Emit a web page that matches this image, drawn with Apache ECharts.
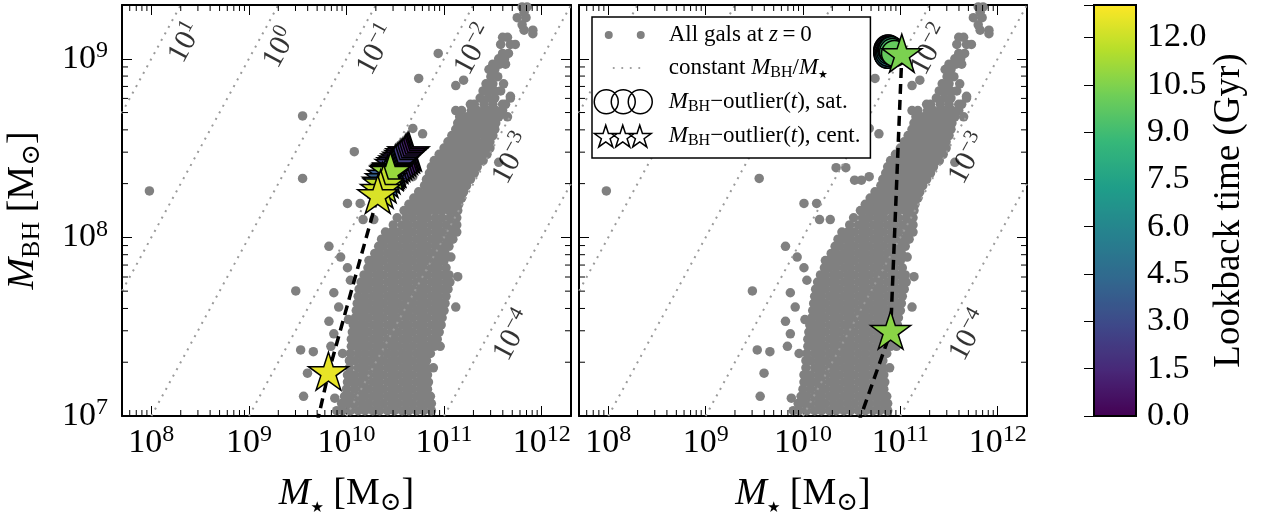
<!DOCTYPE html>
<html>
<head>
<meta charset="utf-8">
<script src="https://cdn.jsdelivr.net/npm/echarts@6.0.0/dist/echarts.min.js"></script>
<style>
html,body{margin:0;padding:0;background:#fff;}
#chart{width:1264px;height:514px;}
</style>
</head>
<body>
<div id="chart"></div>
<script>
// ------------------------------------------------------------------ data
const X_MIN = 5e7, X_MAX = 2e12;     // M_star axis range
const Y_MIN = 1e7, Y_MAX = 2e9;      // M_BH axis range
const CB_MIN = 0, CB_MAX = 13.03;    // lookback time range (Gyr)
const colorbarStep = 1.5;

// constant M_BH / M_star lines: exponents and the log(M_BH) height of each label
const ratioExponents   = [1, 0, -1, -2, -3, -4];
const ratioLabelLogMbh = [9.09, 9.06, 9.05, 9.05, 8.44, 7.45];

// z=0 galaxy cloud (same galaxies in both panels), log10 values
const cloudRowLogMbh = [6.99,7.03,7.07,7.11,7.15,7.19,7.23,7.27,7.31,7.35,7.39,7.43,7.47,7.51,7.55,7.59,7.63,7.67,7.71,7.75,7.79,7.83,7.87,7.91,7.95,7.99,8.03,8.07,8.11,
  8.15,8.185,8.22,8.255,8.29,8.325,8.36,8.395,8.43,8.465,8.50,8.535,8.57,8.605,8.64,8.675,8.71,8.745,8.78,
  8.82,8.86,8.90,8.94,8.97,9.00,9.03,9.08,9.12,9.16,9.19,9.23,9.26,9.29];
const cloudRowLogMstar = [
  [9.93,10.01,10.08,10.16,10.23,10.31,10.38,10.46,10.53,10.61,10.68,10.76,10.83,10.90],
  [9.96,10.04,10.12,10.19,10.27,10.34,10.42,10.49,10.57,10.64,10.72,10.79,10.87],
  [9.95,10.01,10.08,10.16,10.23,10.31,10.38,10.46,10.53,10.61,10.68,10.76,10.83,10.87],
  [9.98,10.04,10.12,10.19,10.27,10.34,10.42,10.49,10.57,10.64,10.72,10.79,10.86],
  [10.00,10.08,10.16,10.23,10.31,10.38,10.46,10.53,10.61,10.68,10.76,10.83],
  [10.01,10.05,10.12,10.19,10.27,10.34,10.42,10.49,10.57,10.64,10.72,10.79,10.84],
  [10.01,10.08,10.16,10.23,10.31,10.38,10.46,10.53,10.61,10.68,10.76,10.83],
  [10.03,10.12,10.19,10.27,10.34,10.42,10.49,10.57,10.64,10.72,10.79,10.82],
  [10.03,10.08,10.16,10.23,10.31,10.38,10.46,10.53,10.61,10.68,10.76,10.82],
  [10.04,10.12,10.19,10.27,10.34,10.42,10.49,10.57,10.64,10.72,10.79,10.86],
  [10.05,10.10,10.16,10.23,10.31,10.38,10.46,10.53,10.61,10.68,10.76,10.83,10.90],
  [10.05,10.12,10.19,10.27,10.34,10.42,10.49,10.57,10.64,10.72,10.79,10.87,10.93],
  [10.06,10.10,10.16,10.23,10.31,10.38,10.46,10.53,10.61,10.68,10.76,10.83,10.91,10.95],
  [10.07,10.12,10.19,10.27,10.34,10.42,10.49,10.57,10.64,10.72,10.79,10.87,10.94,10.97],
  [10.09,10.16,10.23,10.31,10.38,10.46,10.53,10.61,10.68,10.76,10.83,10.91,10.98],
  [10.10,10.13,10.19,10.27,10.34,10.42,10.49,10.57,10.64,10.72,10.79,10.87,10.94,11.00],
  [10.11,10.16,10.23,10.31,10.38,10.46,10.53,10.61,10.68,10.76,10.83,10.91,10.98,11.01],
  [10.12,10.19,10.27,10.34,10.42,10.49,10.57,10.64,10.72,10.79,10.87,10.94,11.02],
  [10.13,10.17,10.23,10.31,10.38,10.46,10.53,10.61,10.68,10.76,10.83,10.91,10.98,11.04],
  [10.15,10.20,10.27,10.34,10.42,10.49,10.57,10.64,10.72,10.79,10.87,10.94,11.02,11.06],
  [10.18,10.23,10.31,10.38,10.46,10.53,10.61,10.68,10.76,10.83,10.91,10.98,11.05],
  [10.22,10.27,10.34,10.42,10.49,10.57,10.64,10.72,10.79,10.87,10.94,11.02],
  [10.26,10.31,10.38,10.46,10.53,10.61,10.68,10.76,10.83,10.91,10.98,11.00],
  [10.29,10.34,10.42,10.49,10.57,10.64,10.72,10.79,10.87,10.94,11.01],
  [10.33,10.38,10.46,10.53,10.61,10.68,10.76,10.83,10.91,10.98,11.05],
  [10.36,10.42,10.49,10.57,10.64,10.72,10.79,10.87,10.94,11.02,11.09],
  [10.40,10.46,10.53,10.61,10.68,10.76,10.83,10.91,10.98,11.06,11.13],
  [10.48,10.57,10.64,10.72,10.79,10.87,10.94,11.02,11.09,11.13],
  [10.52,10.61,10.68,10.76,10.83,10.91,10.98,11.06,11.13],
  [10.59,10.66,10.72,10.79,10.85,10.92,10.98,11.05,11.11,11.14],
  [10.64,10.69,10.76,10.82,10.89,10.95,11.02,11.08,11.15],
  [10.69,10.72,10.79,10.85,10.92,10.98,11.05,11.11,11.18],
  [10.74,10.82,10.89,10.95,11.02,11.08,11.15,11.20],
  [10.80,10.85,10.92,10.98,11.05,11.11,11.18,11.23],
  [10.82,10.89,10.95,11.02,11.08,11.15,11.21,11.27],
  [10.85,10.92,10.98,11.05,11.11,11.18,11.24,11.31],
  [10.87,10.95,11.02,11.08,11.15,11.21,11.28,11.34],
  [10.90,10.98,11.05,11.11,11.18,11.24,11.31,11.37,11.40],
  [10.95,11.02,11.08,11.15,11.21,11.28,11.34,11.41,11.44],
  [11.00,11.05,11.11,11.18,11.24,11.31,11.37,11.44,11.47],
  [11.04,11.08,11.15,11.21,11.28,11.34,11.41,11.47],
  [11.08,11.14,11.21,11.28,11.34,11.41,11.47,11.50],
  [11.12,11.18,11.24,11.31,11.37,11.44,11.52],
  [11.14,11.21,11.28,11.34,11.41,11.47,11.53],
  [11.16,11.24,11.31,11.37,11.44,11.50,11.56,11.65],
  [11.12,11.18,11.28,11.34,11.41,11.47,11.53,11.60],
  [11.27,11.31,11.41,11.50,11.60,11.63],
  [11.37,11.45,11.52,11.68],
  [11.40,11.46,11.52,11.58],
  [11.43,11.50,11.61],
  [11.48,11.55],
  [11.46,11.52],
  [11.50,11.57,11.63],
  [11.56,11.62],
  [11.60,11.66],
  [11.58,11.68,11.73],
  [11.60,11.65],
  [11.82,11.91],
  [11.80],
  [11.75,11.84],
  [11.82],
  [11.80,11.85]
];
// isolated galaxies [log M_star, log M_BH]
const cloudExtraLog = [
  [7.98,8.26],[9.55,8.68],[9.55,8.33],[10.08,8.48],[9.48,7.70],[10.01,8.19],[9.82,7.95],[9.94,7.89],
  [9.87,7.69],[9.82,7.53],[9.53,7.37],[9.66,7.36],[9.60,7.24],[9.56,7.11],[10.17,8.10],[10.28,8.10],
  [10.23,7.87],[10.01,7.83],[10.04,7.76],[9.92,7.61],[10.02,7.54],[9.87,7.46],[9.84,7.39],[9.96,7.35],
  [11.12,7.61],[11.14,7.78],[11.07,7.89],[10.96,7.39],[10.89,7.27],[10.94,9.03],[10.74,8.89],[11.12,8.85],
  [11.20,8.88],[10.68,8.61],[10.78,8.58],[11.56,8.42],[11.68,8.79],[11.91,9.14],[10.53,8.32],[10.60,8.32],
  [10.68,8.34],[10.34,8.39],[10.44,8.39],[10.14,8.19],[9.90,7.03],[9.88,7.10]
];

// left panel: M_BH-outlier track, all snapshots central (stars), ordered by lookback time
const leftTrackT        = [0.0,0.2,0.4,0.6,0.9,1.2,1.5,1.8,2.1,2.4,2.8,3.2,3.6,4.0,4.6,6.3,7.2,10.0,11.0,11.8,12.1,12.3,12.6,12.9];
const leftTrackLogMstar = [10.64,10.63,10.62,10.61,10.60,10.58,10.56,10.54,10.52,10.50,10.48,10.45,10.42,10.40,10.37,10.475,10.465,10.455,10.45,10.38,10.35,10.32,9.815,9.66];
const leftTrackLogMbh   = [8.47,8.47,8.46,8.46,8.45,8.44,8.43,8.42,8.41,8.40,8.38,8.36,8.34,8.32,8.30,8.378,8.372,8.366,8.36,8.29,8.26,8.23,7.24,6.87];

// right panel: central snapshots (stars) and satellite snapshots (circles)
const rightCentT        = [10.4, 10.7, 12.9];
const rightCentLogMstar = [11.015, 10.90, 10.51];
const rightCentLogMbh   = [9.02, 7.47, 6.87];
const rightSatT         = [0.0,0.6,1.3,2.0,2.8,3.6,4.4,5.2,6.0,6.8,7.6,8.4,9.2,9.9];
const rightSatLogMstar  = [10.88,10.87,10.87,10.86,10.86,10.86,10.87,10.87,10.88,10.89,10.90,10.91,10.92,10.94];
const rightSatLogMbh    = [9.06,9.06,9.05,9.05,9.04,9.03,9.02,9.02,9.03,9.04,9.05,9.05,9.04,9.03];

// ------------------------------------------------------------------ styles
const FONT = "'Liberation Serif','DejaVu Serif',serif";
const SYMFONT = "'DejaVu Sans',sans-serif";
const VIRIDIS = ['#440154','#482878','#3e4989','#31688e','#26828e','#1f9e89','#35b779','#6ece58','#b5de2b','#fde725'];
const N_GALS = 'All gals at z=0', N_CONST = 'constant MBH/M*', N_SAT = 'MBH-outlier(t), sat.', N_CENT = 'MBH-outlier(t), cent.';
const LABEL_SHIFT_DEX = 0.26;

const p10 = v => Math.pow(10, v);
function circ(cx, cy, r) { return 'M' + (cx - r) + ' ' + cy + 'a' + r + ' ' + r + ' 0 1 0 ' + (2 * r) + ' 0a' + r + ' ' + r + ' 0 1 0 ' + (-2 * r) + ' 0Z'; }
function starPath(cx, cy, R) {
  const ri = R * 0.381966; let d = '';
  for (let k = 0; k < 10; k++) {
    const a = -Math.PI / 2 + k * Math.PI / 5, rr = (k % 2) ? ri : R;
    d += (k ? 'L' : 'M') + (cx + rr * Math.cos(a)).toFixed(2) + ' ' + (cy + rr * Math.sin(a)).toFixed(2);
  }
  return d + 'Z';
}
const STAR_SYMBOL = 'path://M0 0M100 100' + starPath(50, 50, 50);
const ICON_DOTS = 'path://M0 0M70 26' + circ(15, 13, 4) + circ(47, 13, 4);
const ICON_DOTTED = 'path://M0 0M70 26' + circ(20, 13, 1.1) + circ(28.5, 13, 1.1) + circ(37, 13, 1.1) + circ(45.5, 13, 1.1);
const ICON_CIRCLES = 'path://M0 0M70 26' + circ(12.5, 13, 12) + circ(29.5, 13, 12) + circ(46.5, 13, 12);
const ICON_STARS = 'path://M0 0M70 26' + starPath(12, 14, 12) + starPath(29, 14, 12) + starPath(46, 14, 12);

const TICK_RICH = {
  b: {fontFamily: FONT, fontSize: 34, lineHeight: 40, color: '#000'},
  s: {fontFamily: FONT, fontSize: 24, lineHeight: 24, color: '#000', verticalAlign: 'top'}
};
const RATIO_RICH = {
  b: {fontFamily: FONT, fontSize: 30, lineHeight: 36, color: '#000'},
  s: {fontFamily: FONT, fontSize: 21, lineHeight: 21, color: '#000', verticalAlign: 'top'}
};
const NAME_RICH = {
  i: {fontFamily: FONT, fontSize: 38, lineHeight: 44, fontStyle: 'italic', color: '#000'},
  n: {fontFamily: FONT, fontSize: 38, lineHeight: 44, color: '#000'},
  sub: {fontFamily: FONT, fontSize: 26, lineHeight: 26, color: '#000', verticalAlign: 'bottom'},
  st: {fontFamily: SYMFONT, fontSize: 15, lineHeight: 18, color: '#000', verticalAlign: 'bottom'}
};
const LEGEND_RICH = {
  i: {fontFamily: FONT, fontSize: 23, lineHeight: 26, fontStyle: 'italic', color: '#000'},
  n: {fontFamily: FONT, fontSize: 23, lineHeight: 26, color: '#000'},
  sub: {fontFamily: FONT, fontSize: 16, lineHeight: 16, color: '#000', verticalAlign: 'bottom'},
  st: {fontFamily: SYMFONT, fontSize: 11, lineHeight: 13, color: '#000', verticalAlign: 'bottom'}
};
const LEGEND_TEXT = {};
LEGEND_TEXT[N_GALS]  = '{n|All gals at }{i|z}{n|\u2009=\u20090}';
LEGEND_TEXT[N_CONST] = '{n|constant }{i|M}{sub|BH}{n|/}{i|M}{st|\u2605}';
LEGEND_TEXT[N_SAT]   = '{i|M}{sub|BH}{n|\u2212outlier(}{i|t}{n|), sat.}';
LEGEND_TEXT[N_CENT]  = '{i|M}{sub|BH}{n|\u2212outlier(}{i|t}{n|), cent.}';

function expText(n) { return n < 0 ? '\u2212' + (-n) : String(n); }
function logLabel(v) {
  const e = Math.log10(v), n = Math.round(e);
  if (Math.abs(e - n) > 1e-6) return '';
  return '{b|10}{s|' + expText(n) + '}';
}

// ------------------------------------------------------------------ build data
const cloud = [];
cloudRowLogMstar.forEach((xs, i) => xs.forEach(x => cloud.push([p10(x), p10(cloudRowLogMbh[i])])));
cloudExtraLog.forEach(p => cloud.push([p10(p[0]), p10(p[1])]));

function pts(ts, lx, ly) { return ts.map((t, i) => [p10(lx[i]), p10(ly[i]), t]); }
const leftStars = pts(leftTrackT, leftTrackLogMstar, leftTrackLogMbh);
const rightStars = pts(rightCentT, rightCentLogMstar, rightCentLogMbh);
const rightSats = pts(rightSatT, rightSatLogMstar, rightSatLogMbh);
const byTimeDesc = arr => arr.slice().sort((a, b) => b[2] - a[2]).map(p => [p[0], p[1]]);
const leftTrackLine = byTimeDesc(leftStars);
const rightTrackLine = byTimeDesc(rightStars.concat(rightSats));

// minor ticks (2..9 x 10^n), axis decoration only
function minorTicks(lo, hi) {
  const out = [];
  for (let n = 6; n <= 12; n++) for (let k = 2; k <= 9; k++) { const v = k * Math.pow(10, n); if (v > lo * 1.0001 && v < hi * 0.9999) out.push(v); }
  return out;
}
const MINOR_X = minorTicks(X_MIN, X_MAX), MINOR_Y = minorTicks(Y_MIN, Y_MAX);

// ------------------------------------------------------------------ axes
const LINE = {show: true, onZero: false, lineStyle: {color: '#000', width: 2}};
function xAx(grid, pos, labels) {
  return {
    type: 'log', logBase: 10, min: X_MIN, max: X_MAX, gridIndex: grid, position: pos,
    axisLine: LINE, axisTick: {show: true, inside: true, length: 10, lineStyle: {color: '#000', width: 1}},
    minorTick: {show: false}, splitLine: {show: false},
    axisLabel: {show: labels, formatter: logLabel, rich: TICK_RICH, margin: 7, color: '#000'},
    name: labels ? '{i|M}{st|\u2605}{n| [M}{sub|\u2299}{n|]}' : '', nameLocation: 'middle', nameGap: 56,
    nameTextStyle: {rich: NAME_RICH}
  };
}
function yAx(grid, pos, labels, withName) {
  return {
    type: 'log', logBase: 10, min: Y_MIN, max: Y_MAX, gridIndex: grid, position: pos,
    axisLine: LINE, axisTick: {show: true, inside: true, length: 10, lineStyle: {color: '#000', width: 1}},
    minorTick: {show: false}, splitLine: {show: false},
    axisLabel: {show: labels, formatter: logLabel, rich: TICK_RICH, margin: 14, color: '#000', showMinLabel: true},
    name: withName ? '{i|M}{sub|BH}{n| [M}{sub|\u2299}{n|]}' : '', nameLocation: 'middle', nameRotate: 90, nameGap: 77,
    nameTextStyle: {rich: NAME_RICH}
  };
}

// ------------------------------------------------------------------ series
const series = [];
function panelSeries(xi, yi, trackLine, starData, satData) {
  series.push({type: 'scatter', name: N_GALS, xAxisIndex: xi, yAxisIndex: yi, data: cloud, symbol: 'circle', symbolSize: 9.5,
    itemStyle: {color: '#808080', opacity: 1}, silent: true, z: 1, clip: true});
  ratioExponents.forEach(e => series.push({type: 'line', name: N_CONST, xAxisIndex: xi, yAxisIndex: yi,
    data: [[Y_MIN / p10(e), Y_MIN], [Y_MAX / p10(e), Y_MAX]], symbol: 'none', color: '#9a9a9a',
    lineStyle: {color: '#9a9a9a', width: 2, type: [2, 5.5]}, silent: true, z: 2, clip: true}));
  series.push({type: 'scatter', name: 'ratio labels', xAxisIndex: xi, yAxisIndex: yi, symbolSize: 1, silent: true, z: 3,
    itemStyle: {color: 'rgba(0,0,0,0)'},
    data: ratioExponents.map((e, i) => [p10(ratioLabelLogMbh[i] - e + LABEL_SHIFT_DEX), p10(ratioLabelLogMbh[i])]),
    label: {show: true, position: 'inside', rotate: 61.4, rich: RATIO_RICH,
      formatter: p => '{b|10}{s|' + expText(ratioExponents[p.dataIndex]) + '}'}});
  series.push({type: 'line', name: 'track', xAxisIndex: xi, yAxisIndex: yi, data: trackLine, symbol: 'none',
    lineStyle: {color: '#000', width: 3.5, type: [10, 6]}, silent: true, z: 3, clip: true});
  const colored = [];
  if (satData) {
    series.push({type: 'scatter', name: N_SAT, xAxisIndex: xi, yAxisIndex: yi, data: satData, symbol: 'circle', symbolSize: 26,
      itemStyle: {borderColor: '#000', borderWidth: 1.5, opacity: 1}, silent: true, z: 4, clip: true});
    colored.push(series.length - 1);
  }
  series.push({type: 'scatter', name: N_CENT, xAxisIndex: xi, yAxisIndex: yi, data: starData, symbol: STAR_SYMBOL, symbolSize: 42,
    symbolKeepAspect: true, itemStyle: {borderColor: '#000', borderWidth: 1.5, opacity: 1}, silent: true, z: 5, clip: true});
  colored.push(series.length - 1);
  return colored;
}
function minorSeries(xi, yi) {
  const data = MINOR_X.map(v => [v, Y_MIN, 0]).concat(MINOR_Y.map(v => [X_MIN, v, 1]));
  series.push({type: 'custom', name: 'minor', xAxisIndex: xi, yAxisIndex: yi, silent: true, clip: false, z: 6, data: data,
    renderItem: (params, api) => {
      const cs = params.coordSys, L = 6, st = {stroke: '#000', lineWidth: 1};
      if (api.value(2) === 0) {
        const x = api.coord([api.value(0), Y_MIN])[0];
        return {type: 'group', children: [
          {type: 'line', shape: {x1: x, y1: cs.y + cs.height, x2: x, y2: cs.y + cs.height - L}, style: st},
          {type: 'line', shape: {x1: x, y1: cs.y, x2: x, y2: cs.y + L}, style: st}]};
      }
      const y = api.coord([X_MIN, api.value(1)])[1];
      return {type: 'group', children: [
        {type: 'line', shape: {x1: cs.x, y1: y, x2: cs.x + L, y2: y}, style: st},
        {type: 'line', shape: {x1: cs.x + cs.width, y1: y, x2: cs.x + cs.width - L, y2: y}, style: st}]};
    }});
}
const coloredIdx = [].concat(
  panelSeries(0, 0, leftTrackLine, leftStars, null),
  panelSeries(2, 2, rightTrackLine, rightStars, rightSats));
minorSeries(0, 0);
minorSeries(2, 2);

// ------------------------------------------------------------------ option
const option = {
  animation: false,
  backgroundColor: '#fff',
  textStyle: {fontFamily: FONT},
  grid: [
    {left: 122, top: 5, width: 449, height: 411, containLabel: false, outerBoundsMode: 'none'},
    {left: 579, top: 5, width: 448, height: 411, containLabel: false, outerBoundsMode: 'none'},
    {left: 1094, top: 5, width: 42, height: 411, containLabel: false, outerBoundsMode: 'none',
      show: true, borderColor: '#000', borderWidth: 2, backgroundColor: 'rgba(0,0,0,0)', z: 10}
  ],
  xAxis: [xAx(0, 'bottom', true), xAx(0, 'top', false), xAx(1, 'bottom', true), xAx(1, 'top', false),
    {type: 'value', gridIndex: 2, show: false, min: 0, max: 1}],
  yAxis: [yAx(0, 'left', true, true), yAx(0, 'right', false, false), yAx(1, 'left', false, false), yAx(1, 'right', false, false),
    {type: 'value', gridIndex: 2, position: 'right', min: CB_MIN, max: CB_MAX, interval: colorbarStep, z: 10,
      axisLine: {show: true, lineStyle: {color: '#000', width: 2}},
      axisTick: {show: true, inside: true, length: 10, lineStyle: {color: '#000', width: 1}},
      splitLine: {show: false},
      axisLabel: {show: true, margin: 11, fontSize: 34, fontFamily: FONT, color: '#000', showMaxLabel: true,
        formatter: v => (Math.abs(v / colorbarStep - Math.round(v / colorbarStep)) < 1e-6 ? v.toFixed(1) : '')},
      name: 'Lookback time (Gyr)', nameLocation: 'middle', nameRotate: 90, nameGap: 74,
      nameTextStyle: {fontSize: 37, fontFamily: FONT, color: '#000'}}],
  visualMap: {
    type: 'continuous', min: CB_MIN, max: CB_MAX, dimension: 2, seriesIndex: coloredIdx,
    inRange: {color: VIRIDIS}, calculable: false, hoverLink: false, orient: 'vertical',
    left: 1094, top: 5, itemWidth: 42, itemHeight: 411, padding: 0, text: null, showLabel: false, z: 2
  },
  legend: {
    show: true, orient: 'vertical', left: 592, top: 17, padding: [5, 10, 8, 1], itemGap: 7,
    itemWidth: 70, itemHeight: 26, backgroundColor: '#fff', borderColor: '#000', borderWidth: 1.5,
    selectedMode: false, z: 20, symbolKeepAspect: true,
    textStyle: {fontFamily: FONT, fontSize: 23, color: '#000', lineHeight: 26, rich: LEGEND_RICH},
    formatter: name => LEGEND_TEXT[name],
    data: [
      {name: N_GALS, icon: ICON_DOTS, itemStyle: {color: '#808080', borderWidth: 0}},
      {name: N_CONST, icon: ICON_DOTTED, itemStyle: {color: '#9a9a9a', borderWidth: 0}},
      {name: N_SAT, icon: ICON_CIRCLES, itemStyle: {color: 'rgba(255,255,255,0)', borderColor: '#000', borderWidth: 1.5}},
      {name: N_CENT, icon: ICON_STARS, itemStyle: {color: '#fff', borderColor: '#000', borderWidth: 1.5}}
    ]
  },
  series: series
};
const chart = echarts.init(document.getElementById('chart'), null, {renderer: 'canvas'});
chart.setOption(option);
</script>
</body>
</html>
